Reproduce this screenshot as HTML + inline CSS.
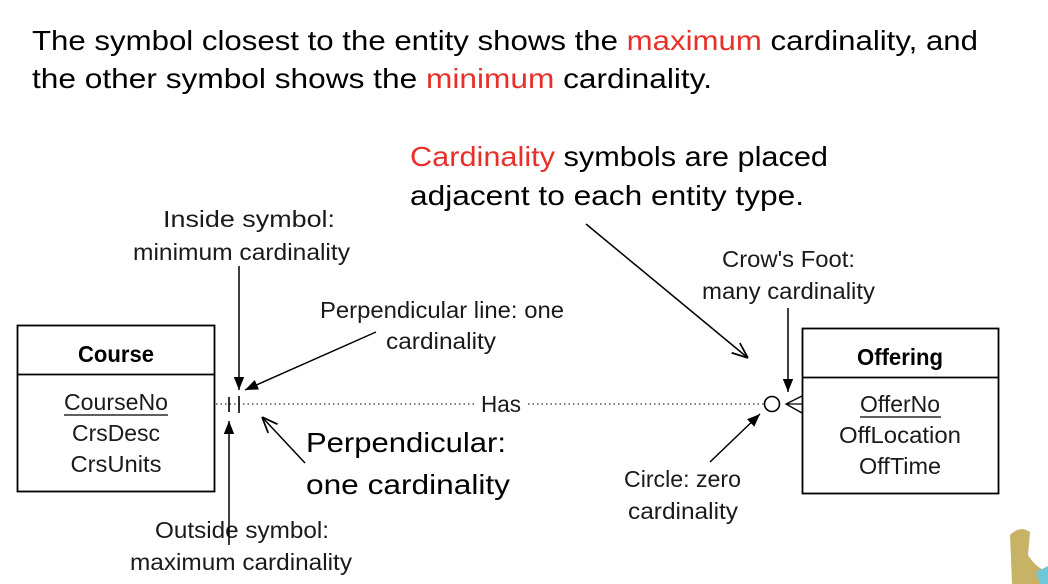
<!DOCTYPE html>
<html><head><meta charset="utf-8"><style>
html,body{margin:0;padding:0;background:#fff;width:1048px;height:584px;overflow:hidden}
svg{display:block}
.t{font-family:"Liberation Sans",sans-serif;font-size:28px;fill:#000}
.r{fill:#e8302a}
.d{font-family:"Liberation Sans",sans-serif;font-size:23px;fill:#1a1a1a}
.b{font-family:"Liberation Sans",sans-serif;font-size:23px;font-weight:bold;fill:#000}
</style></head><body>
<svg width="1048" height="584" viewBox="0 0 1048 584" xmlns="http://www.w3.org/2000/svg">
<defs>
<marker id="a" viewBox="0 0 10 10" refX="10" refY="5" markerWidth="13" markerHeight="13" orient="auto" markerUnits="userSpaceOnUse"><path d="M0,1 L10,5 L0,9 z" fill="#000"/></marker>
<marker id="o" viewBox="0 0 10 10" refX="10" refY="5" markerWidth="16" markerHeight="16" orient="auto" markerUnits="userSpaceOnUse"><path d="M0,1 L10,5 L0,9" fill="none" stroke="#000" stroke-width="1.1"/></marker>
</defs>
<text class="t" x="32" y="50" textLength="946" lengthAdjust="spacingAndGlyphs">The symbol closest to the entity shows the <tspan class="r">maximum</tspan> cardinality, and</text>
<text class="t" x="32" y="88" textLength="680" lengthAdjust="spacingAndGlyphs">the other symbol shows the <tspan class="r">minimum</tspan> cardinality.</text>
<text class="t" x="410" y="166" textLength="418" lengthAdjust="spacingAndGlyphs"><tspan class="r">Cardinality</tspan> symbols are placed</text>
<text class="t" x="410" y="205" textLength="394" lengthAdjust="spacingAndGlyphs">adjacent to each entity type.</text>

<text class="d" x="163" y="227" textLength="172" lengthAdjust="spacingAndGlyphs">Inside symbol:</text>
<text class="d" x="133" y="260" textLength="217" lengthAdjust="spacingAndGlyphs">minimum cardinality</text>
<text class="d" x="320" y="318" textLength="244" lengthAdjust="spacingAndGlyphs">Perpendicular line: one</text>
<text class="d" x="386" y="349" textLength="110" lengthAdjust="spacingAndGlyphs">cardinality</text>
<text class="d" x="722" y="267" textLength="133" lengthAdjust="spacingAndGlyphs">Crow's Foot:</text>
<text class="d" x="702" y="299" textLength="173" lengthAdjust="spacingAndGlyphs">many cardinality</text>
<text class="d" x="481" y="412" textLength="40" lengthAdjust="spacingAndGlyphs">Has</text>
<text class="t" x="306" y="452" textLength="200" lengthAdjust="spacingAndGlyphs">Perpendicular:</text>
<text class="t" x="306" y="494" textLength="204" lengthAdjust="spacingAndGlyphs">one cardinality</text>
<text class="d" x="624" y="487" textLength="117" lengthAdjust="spacingAndGlyphs">Circle: zero</text>
<text class="d" x="628" y="519" textLength="110" lengthAdjust="spacingAndGlyphs">cardinality</text>
<text class="d" x="155" y="538" textLength="174" lengthAdjust="spacingAndGlyphs">Outside symbol:</text>
<text class="d" x="130" y="570" textLength="222" lengthAdjust="spacingAndGlyphs">maximum cardinality</text>

<!-- Course -->
<rect x="17.5" y="325.5" width="197" height="166" fill="none" stroke="#000" stroke-width="1.8"/>
<line x1="17" y1="374.5" x2="215" y2="374.5" stroke="#000" stroke-width="1.8"/>
<text class="b" x="116" y="362" text-anchor="middle" textLength="76" lengthAdjust="spacingAndGlyphs">Course</text>
<text class="d" x="116" y="410" text-anchor="middle" textLength="104" lengthAdjust="spacingAndGlyphs">CourseNo</text>
<line x1="64" y1="415" x2="168" y2="415" stroke="#000" stroke-width="1.2"/>
<text class="d" x="116" y="441" text-anchor="middle" textLength="88" lengthAdjust="spacingAndGlyphs">CrsDesc</text>
<text class="d" x="116" y="472" text-anchor="middle" textLength="91" lengthAdjust="spacingAndGlyphs">CrsUnits</text>

<!-- Offering -->
<rect x="802.5" y="328.5" width="196" height="165" fill="none" stroke="#000" stroke-width="1.8"/>
<line x1="802" y1="377.5" x2="999" y2="377.5" stroke="#000" stroke-width="1.8"/>
<text class="b" x="900" y="365" text-anchor="middle" textLength="86" lengthAdjust="spacingAndGlyphs">Offering</text>
<text class="d" x="900" y="412" text-anchor="middle" textLength="80" lengthAdjust="spacingAndGlyphs">OfferNo</text>
<line x1="860" y1="417" x2="941" y2="417" stroke="#000" stroke-width="1.2"/>
<text class="d" x="900" y="443" text-anchor="middle" textLength="122" lengthAdjust="spacingAndGlyphs">OffLocation</text>
<text class="d" x="900" y="474" text-anchor="middle" textLength="82" lengthAdjust="spacingAndGlyphs">OffTime</text>

<!-- relationship line -->
<line x1="216" y1="404" x2="475" y2="404" stroke="#333" stroke-width="1.2" stroke-dasharray="1.5,3"/>
<line x1="528" y1="404" x2="764" y2="404" stroke="#333" stroke-width="1.2" stroke-dasharray="1.5,3"/>
<line x1="229" y1="397" x2="229" y2="412" stroke="#000" stroke-width="1.6"/>
<line x1="239" y1="396" x2="239" y2="413" stroke="#000" stroke-width="1.6"/>
<circle cx="772" cy="404" r="7.5" fill="none" stroke="#000" stroke-width="1.6"/>
<path d="M802,396 L786,404 L802,413 M786,404 L802,404" fill="none" stroke="#000" stroke-width="1.3"/>

<!-- arrows -->
<line x1="239" y1="266" x2="239" y2="390" stroke="#000" stroke-width="1.5" marker-end="url(#a)"/>
<line x1="229" y1="545" x2="229" y2="421" stroke="#000" stroke-width="1.5" marker-end="url(#a)"/>
<line x1="376" y1="332" x2="245" y2="390" stroke="#000" stroke-width="1.5" marker-end="url(#a)"/>
<line x1="305" y1="463" x2="262" y2="417" stroke="#000" stroke-width="1.5" marker-end="url(#o)"/>
<line x1="586" y1="224" x2="748" y2="358" stroke="#000" stroke-width="1.5" marker-end="url(#o)"/>
<line x1="788" y1="308" x2="788" y2="392" stroke="#000" stroke-width="1.5" marker-end="url(#a)"/>
<line x1="710" y1="462" x2="760" y2="414" stroke="#000" stroke-width="1.5" marker-end="url(#a)"/>

<!-- corner decoration -->
<path d="M1010,535 Q1020,525 1030,532 L1028,555 Q1036,568 1048,572 L1048,584 L1012,584 Z" fill="#c8b266"/>
<path d="M1036,572 L1048,566 L1048,584 L1040,584 Z" fill="#6ec6d8"/>
</svg>
</body></html>
